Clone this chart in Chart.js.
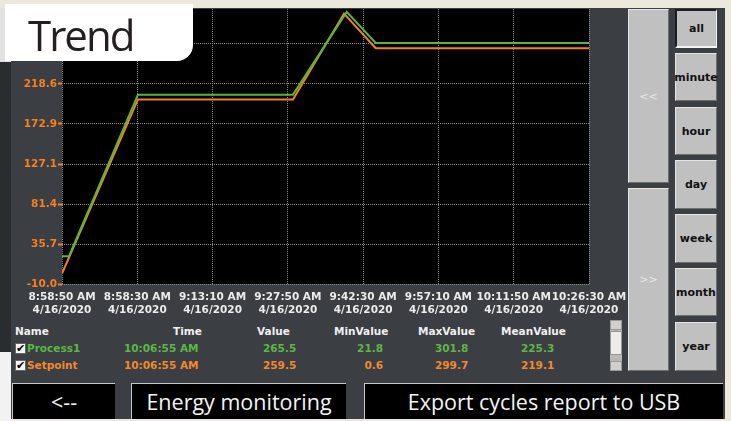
<!DOCTYPE html>
<html lang="en">
<head>
  <meta charset="UTF-8">
  <title>Trend</title>
  <script src="https://cdn.jsdelivr.net/npm/chart.js"></script>
  <style>
    html, body {
      margin: 0;
      padding: 0;
    }
    body {
      width: 731px;
      height: 421px;
      position: relative;
      overflow: hidden;
      background-color: #ece8dc;
      font-family: "DejaVu Sans", sans-serif;
    }
    .abs { position: absolute; }
    #panel {
      left: 11px; top: 8px; width: 714px; height: 411px;
      background-color: #3b3e42;
    }
    #leftTop { left: 0; top: 8px; width: 11px; height: 54px; background: #e2e2e2; }
    #leftMid { left: 0; top: 62px; width: 11px; height: 290px; background: #2a2d30; }
    #leftBot { left: 0; top: 352px; width: 11px; height: 69px; background: #f2f2f2; }
    #chartBox { left: 10px; top: 9px; }
    #tab {
      left: 5px; top: 4px; width: 188px; height: 57px;
      background: #ffffff;
      border-bottom-right-radius: 16px;
    }
    #tab span {
      position: absolute; left: 23px; top: 2px;
      font-family: "Open Sans", sans-serif;
      font-size: 42px;
      letter-spacing: -2px;
      color: #231f20;
    }
    .btn {
      background: #c0c0c0;
      border-top: 1px solid #e6e6e6;
      border-left: 1px solid #e6e6e6;
      border-right: 1px solid #6e6e6e;
      border-bottom: 1px solid #6e6e6e;
      box-sizing: border-box;
      display: flex; align-items: center; justify-content: center;
      font-weight: bold; font-size: 11px; color: #111;
    }
    .btn.pressed {
      border-top: 2px solid #1e1e1e;
      border-left: 2px solid #1e1e1e;
      border-right: 1px solid #f4f4f4;
      border-bottom: 2px solid #f4f4f4;
    }
    .nav { color: #e8e8e8; font-weight: normal; font-size: 11px; }
    .big {
      background: #000;
      border-top: 1px solid #c8c8c8;
      border-left: 1px solid #c8c8c8;
      box-sizing: border-box;
      display: flex; align-items: center; justify-content: center;
      font-family: "Open Sans", sans-serif; font-size: 21.5px; color: #f4f4f4;
    }
    .t { position: absolute; font-size: 10.5px; font-weight: bold; line-height: 14px; white-space: nowrap; }
    .hd { color: #f0f0f0; }
    .g { color: #5cb845; }
    .o { color: #f08a2c; }
    .chk {
      position: absolute; width: 11px; height: 11px; background: #f4f4f4;
      border: 1px solid #666; box-sizing: border-box;
      font-size: 11px; line-height: 9px; color: #000; text-align: center; font-weight: bold;
    }
    #scroll { left: 610px; top: 320px; width: 12px; height: 51px; background: #b8b8b8; }
    #scroll .a { position: absolute; left: 0; width: 12px; height: 10px; background: #d0d0d0; border: 1px solid #999; box-sizing: border-box; }
    #scroll .th { position: absolute; left: 0; top: 11px; width: 12px; height: 24px; background: #ececec; border: 1px solid #999; box-sizing: border-box; }
  </style>
</head>
<body>
  <div class="abs" id="panel"></div>
  <div class="abs" id="leftTop"></div>
  <div class="abs" id="leftMid"></div>
  <div class="abs" id="leftBot"></div>

  <div class="abs" id="chartBox"><canvas id="trendChart" width="618" height="309"></canvas></div>

  <div class="abs" id="tab"><span>Trend</span></div>

  <!-- scroll buttons -->
  <div class="abs btn nav" style="left:628px;top:9px;width:41px;height:174px;">&lt;&lt;</div>
  <div class="abs btn nav" style="left:628px;top:188px;width:41px;height:183px;">&gt;&gt;</div>

  <!-- range buttons -->
  <div class="abs btn pressed" style="left:675px;top:9px;width:42px;height:39px;">all</div>
  <div class="abs btn" style="left:675px;top:53px;width:42px;height:48px;">minute</div>
  <div class="abs btn" style="left:675px;top:107px;width:42px;height:48px;">hour</div>
  <div class="abs btn" style="left:675px;top:160px;width:42px;height:49px;">day</div>
  <div class="abs btn" style="left:675px;top:214px;width:42px;height:49px;">week</div>
  <div class="abs btn" style="left:675px;top:268px;width:42px;height:48px;">month</div>
  <div class="abs btn" style="left:675px;top:322px;width:42px;height:49px;">year</div>

  <!-- legend table -->
  <div id="legend"></div>
  <div class="abs" id="scroll">
    <div class="a" style="top:0;"></div>
    <div class="th"></div>
    <div class="a" style="top:41px;"></div>
  </div>

  <!-- bottom buttons -->
  <div class="abs big" style="left:12px;top:383px;width:103px;height:36px;">&lt;--</div>
  <div class="abs big" style="left:131px;top:383px;width:215px;height:36px;">Energy monitoring</div>
  <div class="abs big" style="left:364px;top:383px;width:359px;height:36px;">Export cycles report to USB</div>

  <script>
    // x axis: seconds from the left edge of the window, one tick every 14:40
    const xTickSeconds = [0, 880, 1760, 2640, 3520, 4400, 5280, 6160];
    const xTickTimes = ['8:58:50 AM', '8:58:30 AM', '9:13:10 AM', '9:27:50 AM', '9:42:30 AM', '9:57:10 AM', '10:11:50 AM', '10:26:30 AM'];
    const xTickDates = ['4/16/2020', '4/16/2020', '4/16/2020', '4/16/2020', '4/16/2020', '4/16/2020', '4/16/2020', '4/16/2020'];
    const yTicks = [-10.0, 35.7, 81.4, 127.1, 172.9, 218.6, 264.3];

    // Process1 (green)
    const processTimes = [0, 82, 888, 2700, 3328, 3667, 6160];
    const processValues = [21.8, 21.8, 206.4, 206.4, 301.0, 265.5, 265.5];

    // Setpoint (orange)
    const setpointTimes = [0, 888, 2700, 3296, 3667, 6160];
    const setpointValues = [2.0, 200.9, 200.9, 299.0, 259.5, 259.5];

    // legend rows
    const seriesNames = ['Process1', 'Setpoint'];
    const seriesTime = ['10:06:55 AM', '10:06:55 AM'];
    const seriesValue = ['265.5', '259.5'];
    const seriesMin = ['21.8', '0.6'];
    const seriesMax = ['301.8', '299.7'];
    const seriesMean = ['225.3', '219.1'];

    const green = '#55b83c';
    const orange = '#f7801f';

    const blackArea = {
      id: 'blackArea',
      beforeDraw(chart) {
        const a = chart.chartArea;
        const c = chart.ctx;
        c.save();
        c.fillStyle = '#000';
        c.fillRect(a.left, a.top, a.right - a.left, a.bottom - a.top);
        c.restore();
      }
    };

    const toPoints = (xs, ys) => xs.map((x, i) => ({ x: x, y: ys[i] }));

    const ctx = document.getElementById('trendChart').getContext('2d');
    const trendChart = new Chart(ctx, {
      type: 'line',
      data: {
        datasets: [{
          label: seriesNames[0],
          data: toPoints(processTimes, processValues),
          borderColor: green,
          borderWidth: 2,
          pointRadius: 0,
          tension: 0,
          fill: false
        }, {
          label: seriesNames[1],
          data: toPoints(setpointTimes, setpointValues),
          borderColor: orange,
          borderWidth: 2,
          pointRadius: 0,
          tension: 0,
          fill: false
        }]
      },
      options: {
        responsive: false,
        animation: false,
        layout: { padding: { left: 0, right: 39, top: 0, bottom: 0 } },
        plugins: {
          legend: { display: false },
          tooltip: { enabled: false }
        },
        scales: {
          x: {
            type: 'linear',
            min: 0,
            max: 6160,
            afterBuildTicks: (s) => { s.ticks = xTickSeconds.map(v => ({ value: v })); },
            afterFit: (s) => { s.height = 34; s.paddingLeft = 0; s.paddingRight = 0; },
            grid: { color: '#8a8a8a', lineWidth: 1, drawTicks: false },
            border: { display: false, dash: [1, 1] },
            ticks: {
              autoSkip: false,
              maxRotation: 0,
              padding: 6,
              color: '#ececec',
              font: { family: 'DejaVu Sans', size: 10.5, weight: 'bold', lineHeight: 1.3 },
              callback: (v, i) => [xTickTimes[i], xTickDates[i]]
            }
          },
          y: {
            min: -10,
            max: 304.3,
            afterBuildTicks: (s) => { s.ticks = yTicks.map(v => ({ value: v })); },
            afterFit: (s) => { s.width = 52; s.paddingTop = 0; s.paddingBottom = 0; },
            grid: { color: '#8a8a8a', lineWidth: 1, drawTicks: true, tickLength: 4, tickColor: orange, tickWidth: 2 },
            border: { display: false, dash: [1, 1] },
            ticks: {
              padding: 1,
              color: orange,
              font: { family: 'DejaVu Sans', size: 10.5, weight: 'bold' },
              callback: (v) => v.toFixed(1)
            }
          }
        }
      },
      plugins: [blackArea]
    });

    // legend table
    const legend = document.getElementById('legend');
    function addText(txt, cls, left, top, right) {
      const d = document.createElement('div');
      d.className = 't ' + cls;
      d.textContent = txt;
      d.style.top = top + 'px';
      if (right !== undefined) { d.style.left = (right - 60) + 'px'; d.style.width = '60px'; d.style.textAlign = 'right'; }
      else d.style.left = left + 'px';
      legend.appendChild(d);
    }
    addText('Name', 'hd', 15, 324);
    addText('Time', 'hd', 173, 324);
    addText('Value', 'hd', 257, 324);
    addText('MinValue', 'hd', 334, 324);
    addText('MaxValue', 'hd', 418, 324);
    addText('MeanValue', 'hd', 501, 324);
    const rowCls = ['g', 'o'];
    const rowTop = [341, 358];
    seriesNames.forEach((name, i) => {
      const c = document.createElement('div');
      c.className = 'chk';
      c.textContent = '\u2714';
      c.style.left = '15px';
      c.style.top = (rowTop[i] + 2) + 'px';
      legend.appendChild(c);
      addText(name, rowCls[i], 27, rowTop[i]);
      addText(seriesTime[i], rowCls[i], 124, rowTop[i]);
      addText(seriesValue[i], rowCls[i], 263, rowTop[i]);
      addText(seriesMin[i], rowCls[i], 0, rowTop[i], 383);
      addText(seriesMax[i], rowCls[i], 435, rowTop[i]);
      addText(seriesMean[i], rowCls[i], 521, rowTop[i]);
    });
  </script>
</body>
</html>
